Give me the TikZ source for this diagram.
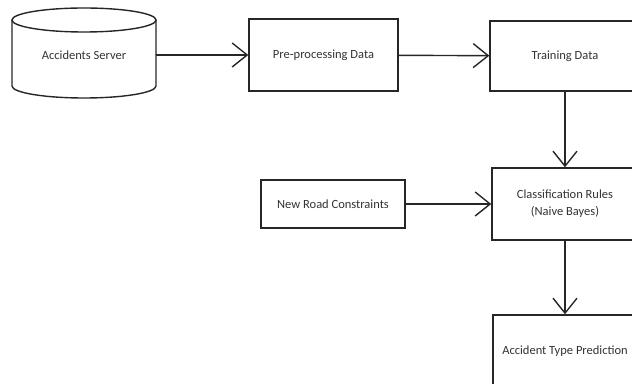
\documentclass[tikz,border=0pt]{standalone}
\usepackage{fontspec}
\setmainfont{Carlito}
\usetikzlibrary{arrows.meta}

\begin{document}
\begin{tikzpicture}[x=1pt, y=1pt,
    lbl/.style={font=\fontsize{12.5}{17}\selectfont, text=black!80, align=center},
    box/.style={lbl, draw=black!85, line width=1.4pt, minimum width=150pt, minimum height=72pt},
    flow/.style={draw=black!85, line width=1.4pt, -{Straight Barb[length=15pt,width=24pt]}}]
    \useasboundingbox (0,0) rectangle (632,383);
    \clip (0,0) rectangle (632,383);
    % Server
    \draw[draw=black!85, line width=1.4pt] (12,363) -- (12,297) arc[start angle=180, end angle=360, x radius=72, y radius=12] -- (156,363);
    \draw[draw=black!85, line width=1.4pt] (84,363) ellipse[x radius=72, y radius=12];
    \node[lbl, minimum width=144pt, minimum height=60pt, inner sep=0pt] (srv) at (84,328) {Accidents Server};
    % top row
    \node[box, minimum width=149pt] (pre) at (323.5,328) {Pre-processing Data};
    \node[box, minimum width=150pt, minimum height=70pt] (train) at (565,327) {Training Data};
    % middle row
    \node[box, minimum width=146pt] (cls) at (565,179) {Classification Rules\\(Naive Bayes)};
    \node[box, minimum width=144pt, minimum height=48pt] (road) at (333,179) {New Road Constraints};
    % bottom
    \node[box, minimum width=144pt] (pred) at (565,32) {Accident Type Prediction};
    % connectors
    \draw[flow] (srv.east) -- (pre);
    \draw[flow] (pre) -- (train);
    \draw[flow] (train) -- (cls);
    \draw[flow] (road) -- (cls);
    \draw[flow] (cls) -- (pred);
\end{tikzpicture}
\end{document}
